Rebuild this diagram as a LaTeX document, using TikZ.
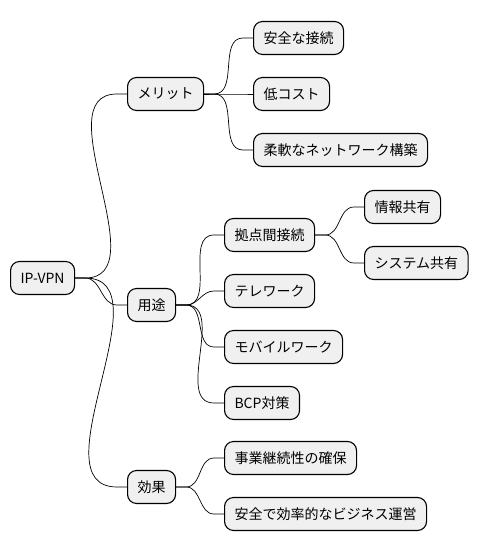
\documentclass[tikz,border=0pt]{standalone}
\usepackage{fontspec}
\setmainfont{Noto Sans CJK JP}
\usetikzlibrary{calc}
\tikzstyle{topic} = [draw=black, line width=1.1pt, fill=gray!12, rounded corners=9pt, inner xsep=10pt, minimum height=33pt, anchor=west, font=\fontsize{14}{14}\selectfont]
\newcommand{\mmedge}[2]{\draw[line width=0.7pt] (#1.east) -- ++(10,0) to[out=0,in=180] ($(#2.west)+(-10,0)$) -- (#2.west);}

\begin{document}
\begin{tikzpicture}[x=1pt, y=1pt]
\useasboundingbox (0,0) rectangle (479,555);

% Define nodes
\node[topic] (root)   at (10,277)  {IP-VPN};

\node[topic] (merit)  at (127,461) {メリット};
\node[topic] (safe)   at (253,517) {安全な接続};
\node[topic] (cost)   at (253,461) {低コスト};
\node[topic] (flex)   at (253,405) {柔軟なネットワーク構築};

\node[topic] (use)    at (127,250) {用途};
\node[topic] (site)   at (224,320) {拠点間接続};
\node[topic] (info)   at (364,348) {情報共有};
\node[topic] (sys)    at (364,292) {システム共有};
\node[topic] (tele)   at (224,264) {テレワーク};
\node[topic] (mobile) at (224,208) {モバイルワーク};
\node[topic] (bcp)    at (224,152) {BCP対策};

\node[topic] (effect) at (127,68)  {効果};
\node[topic] (bcont)  at (224,97)  {事業継続性の確保};
\node[topic] (biz)    at (224,41)  {安全で効率的なビジネス運営};

% Edges
\mmedge{root}{merit}
\mmedge{root}{use}
\mmedge{root}{effect}
\mmedge{merit}{safe}
\mmedge{merit}{cost}
\mmedge{merit}{flex}
\mmedge{use}{site}
\mmedge{use}{tele}
\mmedge{use}{mobile}
\mmedge{use}{bcp}
\mmedge{site}{info}
\mmedge{site}{sys}
\mmedge{effect}{bcont}
\mmedge{effect}{biz}
\end{tikzpicture}
\end{document}
